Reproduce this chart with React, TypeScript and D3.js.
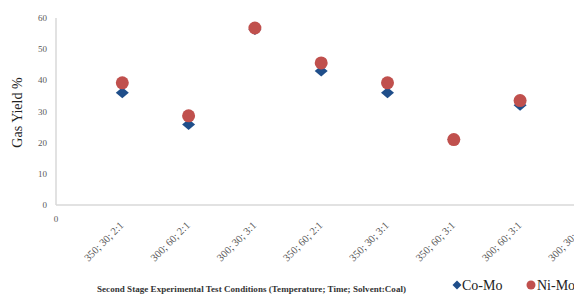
import React, { useEffect, useRef } from 'react'
import * as d3 from 'd3'

const categories = ['350; 30; 2:1', '300; 60; 2:1', '300; 30; 3:1', '350; 60; 2:1', '350; 30; 3:1', '350; 60; 3:1', '300; 60; 3:1', '300; 30; 2:1']
const coMo = [36, 25.8, 56.3, 43, 36, 21, 32]
const niMo = [39.2, 28.6, 56.8, 45.6, 39.2, 21, 33.5]
const yTicks = [0, 10, 20, 30, 40, 50, 60]

const W = 574
const H = 296

export default function App() {
  const ref = useRef<SVGSVGElement | null>(null)

  useEffect(() => {
    const svg = d3.select(ref.current)
    svg.selectAll('*').remove()

    const x = d3.scaleLinear().domain([0, 8]).range([56, 586.4])
    const y = d3.scaleLinear().domain([0, 60]).range([205, 18])
    const serif = '"Liberation Serif", "Times New Roman", serif'
    const diamond = (w: number, h: number) => `M0,${-h}L${w},0L0,${h}L${-w},0Z`

    // axes
    svg.append('line').attr('x1', 56).attr('x2', W).attr('y1', y(0)).attr('y2', y(0))
      .attr('stroke', '#d9d9d9').attr('stroke-width', 1.5)
    svg.append('line').attr('x1', 56).attr('x2', 56).attr('y1', y(60)).attr('y2', y(0))
      .attr('stroke', '#d9d9d9').attr('stroke-width', 1.5)

    svg.append('g').selectAll('text').data(yTicks).enter().append('text')
      .attr('x', 47).attr('y', d => y(d) + 3)
      .attr('text-anchor', 'end')
      .attr('font-family', serif).attr('font-size', 9).attr('fill', '#595959')
      .text(d => d)

    svg.append('text').attr('x', x(0)).attr('y', 222).attr('text-anchor', 'middle')
      .attr('font-family', serif).attr('font-size', 9).attr('fill', '#595959').text('0')

    // rotated category labels (last one runs off the right edge, as in the original)
    svg.append('g').selectAll('text').data(categories).enter().append('text')
      .attr('transform', (d, i) => `translate(${x(i + 1) + 2},${226}) rotate(-45)`)
      .attr('text-anchor', 'end')
      .attr('font-family', serif).attr('font-size', 10.5).attr('fill', '#595959')
      .text(d => d)

    // axis titles
    svg.append('text').attr('transform', `translate(22,${y(30) + 1}) rotate(-90)`)
      .attr('text-anchor', 'middle').attr('font-family', serif).attr('font-size', 14).attr('fill', '#222')
      .text('Gas Yield %')
    svg.append('text').attr('x', 97).attr('y', 292)
      .attr('font-family', serif).attr('font-size', 9).attr('font-weight', 'bold').attr('fill', '#333')
      .attr('textLength', 309).attr('lengthAdjust', 'spacing')
      .text('Second Stage Experimental  Test  Conditions  (Temperature; Time; Solvent:Coal)')

    // marks
    svg.append('g').selectAll('path').data(coMo).enter().append('path')
      .attr('transform', (d, i) => `translate(${x(i + 1)},${y(d)})`)
      .attr('d', diamond(6.5, 5.5)).attr('fill', '#1f4e8a')
    svg.append('g').selectAll('circle').data(niMo).enter().append('circle')
      .attr('cx', (d, i) => x(i + 1)).attr('cy', d => y(d)).attr('r', 6.5)
      .attr('fill', '#c0504d')

    // legend
    const lg = svg.append('g').attr('font-family', serif).attr('font-size', 14).attr('fill', '#222')
    lg.append('path').attr('transform', 'translate(457,285)').attr('d', diamond(4.5, 4.5)).attr('fill', '#1f4e8a')
    lg.append('text').attr('x', 462).attr('y', 290).text('Co-Mo')
    lg.append('circle').attr('cx', 531).attr('cy', 285).attr('r', 4.5).attr('fill', '#c0504d')
    lg.append('text').attr('x', 537).attr('y', 290).text('Ni-Mo')
  }, [])

  return (
    <svg ref={ref} width={W} height={H} style={{ position: 'absolute', left: 0, top: 0, background: '#fff' }} />
  )
}
